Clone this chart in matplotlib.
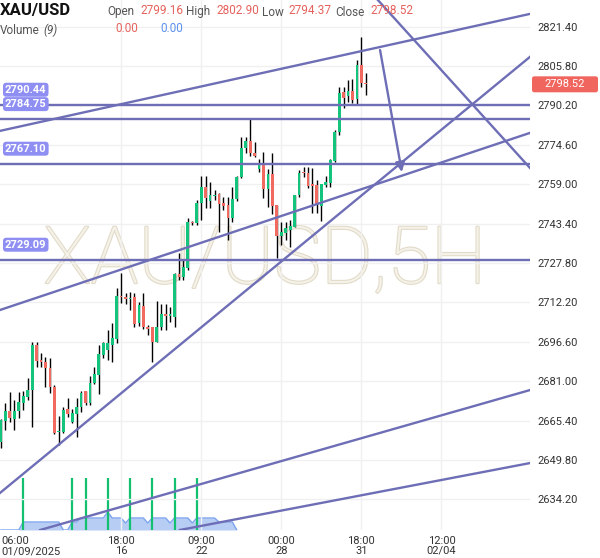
import matplotlib
matplotlib.use('Agg')
import matplotlib.pyplot as plt
import matplotlib.patheffects as pe
from matplotlib.patches import FancyBboxPatch
from matplotlib.transforms import blended_transform_factory
import numpy as np

plt.rcParams['font.family'] = ['Roboto', 'DejaVu Sans']

# 5H candles
opens = [2657.1, 2665.4, 2669.2, 2665.9, 2669.3, 2672.5, 2674.9, 2677.5, 2695.3, 2689.1,
         2688.7, 2686.1, 2678.6, 2660.9, 2661.0, 2669.9, 2665.0, 2668.0, 2670.7, 2677.1,
         2672.5, 2680.4, 2683.5, 2691.4, 2693.4, 2695.3, 2697.7, 2714.7, 2714.2, 2713.4,
         2714.2, 2703.9, 2710.8, 2702.4, 2702.4, 2696.7, 2702.6, 2707.6, 2706.8, 2706.4,
         2723.5, 2722.4, 2725.7, 2744.2, 2743.8, 2751.4, 2757.8, 2752.5, 2754.3, 2755.1,
         2751.4, 2750.8, 2745.5, 2753.0, 2762.0, 2773.5, 2776.1, 2771.5, 2764.9, 2767.5,
         2757.1, 2763.0, 2750.8, 2738.5, 2739.8, 2740.9, 2742.2, 2754.7, 2764.0, 2763.6,
         2759.1, 2758.7, 2750.4, 2758.7, 2759.6, 2768.3, 2779.8, 2795.6, 2793.9, 2795.9,
         2792.6, 2806.2, 2799.16]
highs = [2665.9, 2672.5, 2676.9, 2673.6, 2676.9, 2677.1, 2682.3, 2696.7, 2696.7, 2692.3,
         2690.7, 2690.2, 2679.5, 2667.2, 2670.9, 2674.4, 2670.0, 2674.4, 2677.3, 2677.3,
         2683.1, 2686.8, 2695.3, 2696.7, 2701.3, 2704.1, 2717.9, 2723.9, 2715.9, 2716.5,
         2716.1, 2712.5, 2716.1, 2703.3, 2702.4, 2712.9, 2711.6, 2711.6, 2710.4, 2724.0,
         2731.8, 2729.0, 2745.5, 2744.4, 2752.8, 2762.3, 2762.3, 2760.0, 2756.7, 2755.4,
         2753.9, 2753.9, 2758.0, 2762.3, 2777.8, 2777.8, 2784.9, 2775.6, 2768.9, 2771.9,
         2764.9, 2771.4, 2750.8, 2744.2, 2744.2, 2744.8, 2754.9, 2764.6, 2765.9, 2765.9,
         2765.3, 2760.7, 2759.1, 2762.3, 2768.9, 2780.5, 2797.6, 2797.6, 2800.3, 2800.5,
         2808.2, 2817.2, 2802.90]
lows = [2654.6, 2661.7, 2665.0, 2661.7, 2666.3, 2669.6, 2673.6, 2663.0, 2686.8, 2686.8,
        2678.8, 2676.3, 2660.1, 2655.8, 2660.4, 2666.7, 2664.5, 2658.8, 2668.9, 2671.6,
        2671.6, 2679.9, 2676.0, 2690.1, 2689.4, 2688.7, 2696.1, 2712.0, 2711.6, 2709.2,
        2702.6, 2702.9, 2701.6, 2699.3, 2688.7, 2696.6, 2701.3, 2701.3, 2704.6, 2702.5,
        2721.1, 2721.1, 2725.0, 2742.9, 2742.9, 2744.8, 2749.5, 2749.5, 2752.8, 2740.2,
        2748.8, 2736.9, 2744.0, 2752.5, 2761.3, 2771.2, 2770.2, 2769.9, 2764.0, 2753.4,
        2749.9, 2747.2, 2729.7, 2734.9, 2736.9, 2734.3, 2742.1, 2754.1, 2761.7, 2757.4,
        2747.5, 2747.7, 2744.4, 2757.9, 2758.0, 2767.9, 2778.5, 2789.1, 2791.7, 2791.3,
        2790.8, 2797.6, 2794.37]
closes = [2665.6, 2669.2, 2666.3, 2669.2, 2672.9, 2675.2, 2677.5, 2695.3, 2689.1, 2688.7,
          2686.1, 2678.6, 2660.6, 2661.4, 2669.6, 2668.0, 2668.3, 2670.7, 2676.5, 2672.3,
          2680.2, 2683.9, 2691.8, 2696.0, 2696.3, 2698.0, 2714.7, 2714.2, 2713.7, 2713.8,
          2703.7, 2711.2, 2702.4, 2701.8, 2696.7, 2702.6, 2707.6, 2706.8, 2707.6, 2723.5,
          2722.4, 2726.3, 2744.2, 2743.5, 2751.4, 2757.8, 2753.4, 2754.7, 2754.7, 2751.2,
          2750.4, 2745.5, 2753.0, 2762.0, 2773.5, 2776.1, 2771.2, 2770.3, 2767.3, 2757.1,
          2763.0, 2750.4, 2738.5, 2740.2, 2741.6, 2742.5, 2754.7, 2763.6, 2763.3, 2758.3,
          2758.3, 2750.8, 2759.1, 2760.0, 2768.6, 2779.8, 2795.2, 2793.0, 2795.9, 2792.3,
          2806.2, 2799.2, 2798.52]

# volume area (arbitrary units) and the green spikes
volume = [0, 0, 0, 0, 0, 8, 8, 8, 8, 8, 8, 8, 8, 8, 0, 0, 8, 8, 12, 12,
          12, 12, 12, 12, 18, 12, 12, 12, 7, 12, 12, 12, 12, 7, 12, 12, 12, 12, 7, 12,
          12, 12, 12, 7, 12, 12, 12, 12, 12, 8, 8, 8, 8, 0]
spike_bars = [5, 16, 19, 24, 29, 34, 39, 44]
spike_height = 52

# drawings
hlines = [2790.44, 2784.75, 2767.10, 2729.09]
trendlines = [
    ((-0.2, 2780.1), (118.9, 2826.4)),
    ((-0.2, 2709.2), (118.9, 2779.3)),
    ((-0.2, 2636.8), (118.9, 2809.4)),
    ((84.7, 2831.9), (118.9, 2765.4)),
    ((8.8, 2622.1), (118.9, 2677.5)),
    ((40.2, 2622.1), (118.9, 2648.6)),
]
arrow_start = (85.2, 2812.1)
arrow_end = (90.1, 2763.8)

yticks = [2634.20, 2649.80, 2665.40, 2681.00, 2696.60, 2712.20, 2727.80,
          2743.40, 2759.00, 2774.60, 2790.20, 2805.80, 2821.40]
xtick_pos = [27, 45, 63, 81, 99]
xtick_labels = ['18:00\n16', '09:00\n22', '00:00\n28', '18:00\n31', '12:00\n02/04']

green = '#14c47c'
red = '#f06a60'
line_col = '#6e6eb6'

fig = plt.figure(figsize=(6, 5.58), dpi=100)
xlim = (-0.22, 118.9)
ylim = (2622.1, 2831.9)

# volume pane behind the price pane
axv = fig.add_axes([0, 28 / 558, 530 / 600, 60 / 558])
axv.set_xlim(*xlim)
axv.set_ylim(0, 60)
axv.axis('off')
vx = np.arange(len(volume))
axv.fill_between(vx, volume, color='#b8cdf4', lw=0)
axv.plot(vx, volume, color='#7ca4ee', lw=1)
axv.vlines(spike_bars, 0, spike_height, color='#12c070', lw=1.6)

ax = fig.add_axes([0, 28 / 558, 530 / 600, 530 / 558])
ax.patch.set_alpha(0)
ax.set_xlim(*xlim)
ax.set_ylim(*ylim)
for s in ax.spines.values():
    s.set_visible(False)

x = np.arange(len(opens))
o = np.array(opens)
c = np.array(closes)
cols = [green if cc >= oo else red for oo, cc in zip(o, c)]
ax.vlines(x, lows, highs, color='black', lw=1, zorder=2)
bottoms = np.minimum(o, c)
heights = np.maximum(np.abs(c - o), 0.5)
ax.bar(x, heights, bottom=bottoms, width=0.62, color=cols, zorder=3)

ax.text(0.5, 0.507, 'XAU/USD,5H', transform=ax.transAxes, ha='center', va='center',
        fontsize=57, fontweight='light', color='#f5f2ea', zorder=0.5,
        path_effects=[pe.withStroke(linewidth=1.6, foreground='#e2dbc8')])

for p in hlines:
    ax.axhline(p, color=line_col, lw=1.7, zorder=4)
for (x0, y0), (x1, y1) in trendlines:
    ax.plot([x0, x1], [y0, y1], color=line_col, lw=1.7, zorder=4)
ax.annotate('', xy=arrow_end, xytext=arrow_start,
            arrowprops=dict(arrowstyle='-|>', color=line_col, lw=1.7, mutation_scale=14,
                            shrinkA=0, shrinkB=0),
            zorder=4)

trans = blended_transform_factory(ax.transAxes, ax.transData)
for p in hlines:
    ax.annotate(f'{p:.2f}', xy=(0, p), xycoords=trans, xytext=(3.6, 10.8),
                textcoords='offset points', ha='left', va='center', color='white',
                fontsize=8, fontweight='bold', zorder=6, annotation_clip=False,
                bbox=dict(boxstyle='round,pad=0.18,rounding_size=0.3', fc='#8f8ff3', ec='none'))

ax.set_yticks(yticks)
ax.set_yticklabels([f'{v:.2f}' for v in yticks])
ax.yaxis.tick_right()
ax.tick_params(axis='y', length=0, pad=5, labelsize=8, labelcolor='#333333')
ax.set_xticks(xtick_pos)
ax.set_xticklabels(xtick_labels, linespacing=1.05)
ax.tick_params(axis='x', length=0, pad=4, labelsize=8, labelcolor='#333333')
ax.grid(color='#f0f0f0', lw=1, zorder=0)
ax.set_axisbelow(True)
ax.text(0.003, -0.012, '06:00\n01/09/2025', transform=ax.transAxes, ha='left', va='top',
        fontsize=8, color='#333333', linespacing=1.05)

# last price tag on the price scale
fig.canvas.draw()
yd = ax.transData.transform((0, closes[-1]))[1]
yf = fig.transFigure.inverted().transform((0, yd))[1]
tag_h = 16 / 558
fig.patches.append(FancyBboxPatch((532 / 600, yf - tag_h / 2), 66 / 600, tag_h,
                                  boxstyle='round,pad=0,rounding_size=0.004',
                                  fc='#f0665e', ec='none', transform=fig.transFigure))
fig.text(565 / 600, yf, f'{closes[-1]:.2f}', ha='center', va='center', color='white',
         fontsize=8)

# header
def top(py):
    return 1 - py / 558

hdr = 8.5
fig.text(0, top(10), 'XAU/USD', fontsize=12, fontweight='bold', va='center', color='#111111')
fig.text(107 / 600, top(12), 'Open', fontsize=hdr, va='center', color='#555555')
fig.text(140 / 600, top(10), f'{opens[-1]:.2f}', fontsize=hdr, va='center', color='#e5625c')
fig.text(186 / 600, top(12), 'High', fontsize=hdr, va='center', color='#555555')
fig.text(216 / 600, top(10), f'{highs[-1]:.2f}', fontsize=hdr, va='center', color='#e5625c')
fig.text(262 / 600, top(12), 'Low', fontsize=hdr, va='center', color='#555555')
fig.text(288 / 600, top(10), f'{lows[-1]:.2f}', fontsize=hdr, va='center', color='#e5625c')
fig.text(335 / 600, top(12), 'Close', fontsize=hdr, va='center', color='#555555')
fig.text(370 / 600, top(10), f'{closes[-1]:.2f}', fontsize=hdr, va='center', color='#e5625c')
fig.text(0, top(30), 'Volume', fontsize=hdr, va='center', color='#555555')
fig.text(43 / 600, top(30), '(9)', fontsize=hdr, va='center', color='#555555', style='italic')
fig.text(115 / 600, top(29), '0.00', fontsize=hdr, va='center', color='#e5625c')
fig.text(160 / 600, top(29), '0.00', fontsize=hdr, va='center', color='#5a8fee')

fig.savefig('out.png', dpi=100)
